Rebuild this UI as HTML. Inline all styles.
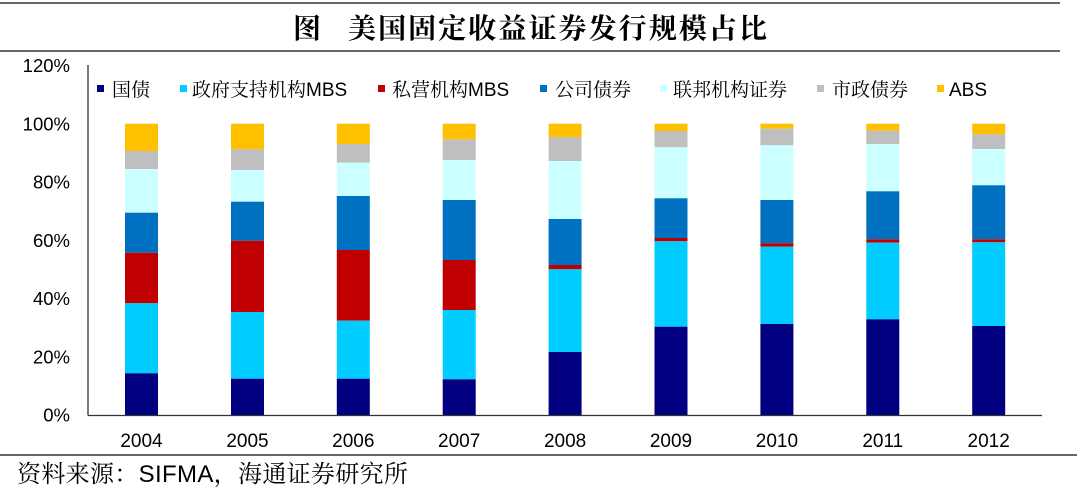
<!DOCTYPE html>
<html>
<head>
<meta charset="utf-8">
<style>
  html, body { margin:0; padding:0; background:#fff; }
  body { width:1080px; height:490px; overflow:hidden; }
  svg { display:block; }
  .ax { font-family:"Liberation Sans", Arial, sans-serif; font-size:18.5px; fill:#000; }
  .lg { font-family:"Liberation Sans", "Noto Serif CJK SC", serif; font-size:19px; fill:#000; }
  .cj { font-family:"Noto Serif CJK SC", "Noto Sans CJK SC", serif; }
  .tt { font-family:"Noto Serif CJK SC", "Liberation Serif", serif; font-size:28px; font-weight:700; fill:#000; }
  .src { font-family:"Liberation Sans", "Noto Serif CJK SC", serif; font-size:24px; fill:#000; }
</style>
</head>
<body>
<svg width="1080" height="490" viewBox="0 0 1080 490" xmlns="http://www.w3.org/2000/svg">
  <!-- header lines -->
  <line x1="0" y1="3" x2="1060" y2="3" stroke="#333" stroke-width="1.5"/>
  <line x1="0" y1="51" x2="1060" y2="51" stroke="#333" stroke-width="1.5"/>
  <text class="tt" x="293" y="38">图</text>
  <text class="tt" x="348" y="38" textLength="419" lengthAdjust="spacing">美国固定收益证券发行规模占比</text>

  <!-- y labels -->
  <g class="ax" text-anchor="end">
    <text x="70" y="72">120%</text>
    <text x="70" y="130.5">100%</text>
    <text x="70" y="188.7">80%</text>
    <text x="70" y="246.9">60%</text>
    <text x="70" y="305.1">40%</text>
    <text x="70" y="363.3">20%</text>
    <text x="70" y="421.5">0%</text>
  </g>

  <!-- legend -->
  <g>
    <rect x="97" y="85" width="7" height="7" fill="#000080"/>
    <text class="lg" x="112" y="96"><tspan class="cj">国债</tspan></text>
    <rect x="180" y="85" width="7" height="7" fill="#00CCFF"/>
    <text class="lg" x="192" y="96"><tspan class="cj">政府支持机构</tspan>MBS</text>
    <rect x="378" y="85" width="7" height="7" fill="#C00000"/>
    <text class="lg" x="392" y="96"><tspan class="cj">私营机构</tspan>MBS</text>
    <rect x="540" y="85" width="7" height="7" fill="#0070C0"/>
    <text class="lg" x="555" y="96"><tspan class="cj">公司债券</tspan></text>
    <rect x="660" y="85" width="7" height="7" fill="#CCFFFF"/>
    <text class="lg" x="673" y="96"><tspan class="cj">联邦机构证券</tspan></text>
    <rect x="817" y="85" width="7" height="7" fill="#BFBFBF"/>
    <text class="lg" x="832" y="96"><tspan class="cj">市政债券</tspan></text>
    <rect x="937" y="85" width="7" height="7" fill="#FFC000"/>
    <text class="lg" x="949" y="96">ABS</text>
  </g>

  <!-- bars -->
  <g id="bars">
    <!-- 2004 -->
    <rect x="125" y="123.7" width="33" height="27.3" fill="#FFC000"/>
    <rect x="125" y="151" width="33" height="18" fill="#BFBFBF"/>
    <rect x="125" y="169" width="33" height="43.7" fill="#CCFFFF"/>
    <rect x="125" y="212.7" width="33" height="40" fill="#0070C0"/>
    <rect x="125" y="252.7" width="33" height="50.6" fill="#C00000"/>
    <rect x="125" y="303.3" width="33" height="70" fill="#00CCFF"/>
    <rect x="125" y="373.3" width="33" height="41.7" fill="#000080"/>
    <!-- 2005 -->
    <rect x="231" y="123.7" width="33" height="25.6" fill="#FFC000"/>
    <rect x="231" y="149.3" width="33" height="20.7" fill="#BFBFBF"/>
    <rect x="231" y="170" width="33" height="31.7" fill="#CCFFFF"/>
    <rect x="231" y="201.7" width="33" height="39" fill="#0070C0"/>
    <rect x="231" y="240.7" width="33" height="71.3" fill="#C00000"/>
    <rect x="231" y="312" width="33" height="66.7" fill="#00CCFF"/>
    <rect x="231" y="378.7" width="33" height="36.3" fill="#000080"/>
    <!-- 2006 -->
    <rect x="336.8" y="123.7" width="33" height="20.3" fill="#FFC000"/>
    <rect x="336.8" y="144" width="33" height="18.7" fill="#BFBFBF"/>
    <rect x="336.8" y="162.7" width="33" height="33.3" fill="#CCFFFF"/>
    <rect x="336.8" y="196" width="33" height="54" fill="#0070C0"/>
    <rect x="336.8" y="250" width="33" height="70.7" fill="#C00000"/>
    <rect x="336.8" y="320.7" width="33" height="58" fill="#00CCFF"/>
    <rect x="336.8" y="378.7" width="33" height="36.3" fill="#000080"/>
    <!-- 2007 -->
    <rect x="442.7" y="123.7" width="33" height="15.6" fill="#FFC000"/>
    <rect x="442.7" y="139.3" width="33" height="20.7" fill="#BFBFBF"/>
    <rect x="442.7" y="160" width="33" height="40" fill="#CCFFFF"/>
    <rect x="442.7" y="200" width="33" height="60" fill="#0070C0"/>
    <rect x="442.7" y="260" width="33" height="50" fill="#C00000"/>
    <rect x="442.7" y="310" width="33" height="69.3" fill="#00CCFF"/>
    <rect x="442.7" y="379.3" width="33" height="35.7" fill="#000080"/>
    <!-- 2008 -->
    <rect x="548.6" y="123.7" width="33" height="13.6" fill="#FFC000"/>
    <rect x="548.6" y="137.3" width="33" height="23.7" fill="#BFBFBF"/>
    <rect x="548.6" y="161" width="33" height="58" fill="#CCFFFF"/>
    <rect x="548.6" y="219" width="33" height="46" fill="#0070C0"/>
    <rect x="548.6" y="265" width="33" height="4.3" fill="#C00000"/>
    <rect x="548.6" y="269.3" width="33" height="82.7" fill="#00CCFF"/>
    <rect x="548.6" y="352" width="33" height="63" fill="#000080"/>
    <!-- 2009 -->
    <rect x="654.5" y="123.7" width="33" height="7.3" fill="#FFC000"/>
    <rect x="654.5" y="131" width="33" height="16.3" fill="#BFBFBF"/>
    <rect x="654.5" y="147.3" width="33" height="51" fill="#CCFFFF"/>
    <rect x="654.5" y="198.3" width="33" height="39.7" fill="#0070C0"/>
    <rect x="654.5" y="238" width="33" height="3.3" fill="#C00000"/>
    <rect x="654.5" y="241.3" width="33" height="85.4" fill="#00CCFF"/>
    <rect x="654.5" y="326.7" width="33" height="88.3" fill="#000080"/>
    <!-- 2010 -->
    <rect x="760.4" y="123.7" width="33" height="5" fill="#FFC000"/>
    <rect x="760.4" y="128.7" width="33" height="16.6" fill="#BFBFBF"/>
    <rect x="760.4" y="145.3" width="33" height="54.7" fill="#CCFFFF"/>
    <rect x="760.4" y="200" width="33" height="43.3" fill="#0070C0"/>
    <rect x="760.4" y="243.3" width="33" height="3.4" fill="#C00000"/>
    <rect x="760.4" y="246.7" width="33" height="77.3" fill="#00CCFF"/>
    <rect x="760.4" y="324" width="33" height="91" fill="#000080"/>
    <!-- 2011 -->
    <rect x="866.3" y="123.7" width="33" height="7" fill="#FFC000"/>
    <rect x="866.3" y="130.7" width="33" height="13.3" fill="#BFBFBF"/>
    <rect x="866.3" y="144" width="33" height="47.3" fill="#CCFFFF"/>
    <rect x="866.3" y="191.3" width="33" height="48" fill="#0070C0"/>
    <rect x="866.3" y="239.3" width="33" height="3.4" fill="#C00000"/>
    <rect x="866.3" y="242.7" width="33" height="76.6" fill="#00CCFF"/>
    <rect x="866.3" y="319.3" width="33" height="95.7" fill="#000080"/>
    <!-- 2012 -->
    <rect x="972.2" y="123.7" width="33" height="10.6" fill="#FFC000"/>
    <rect x="972.2" y="134.3" width="33" height="14.7" fill="#BFBFBF"/>
    <rect x="972.2" y="149" width="33" height="36.3" fill="#CCFFFF"/>
    <rect x="972.2" y="185.3" width="33" height="54" fill="#0070C0"/>
    <rect x="972.2" y="239.3" width="33" height="3" fill="#C00000"/>
    <rect x="972.2" y="242.3" width="33" height="83.7" fill="#00CCFF"/>
    <rect x="972.2" y="326" width="33" height="89" fill="#000080"/>
  </g>

  <!-- axes -->
  <line x1="88" y1="65" x2="88" y2="415.5" stroke="#333" stroke-width="1.3"/>
  <line x1="88" y1="415.5" x2="1042" y2="415.5" stroke="#333" stroke-width="1.3"/>

  <!-- x labels -->
  <g class="ax" text-anchor="middle" style="font-size:19px">
    <text x="141.5" y="447">2004</text>
    <text x="247.5" y="447">2005</text>
    <text x="353.3" y="447">2006</text>
    <text x="459.2" y="447">2007</text>
    <text x="565.1" y="447">2008</text>
    <text x="671" y="447">2009</text>
    <text x="776.9" y="447">2010</text>
    <text x="882.8" y="447">2011</text>
    <text x="988.7" y="447">2012</text>
  </g>

  <!-- footer -->
  <line x1="0" y1="455" x2="1077" y2="455" stroke="#333" stroke-width="1.5"/>
  <text class="src" x="17" y="482" textLength="391" lengthAdjust="spacing"><tspan class="cj">资料来源：</tspan>SIFMA<tspan class="cj">，海通证券研究所</tspan></text>
</svg>
</body>
</html>
